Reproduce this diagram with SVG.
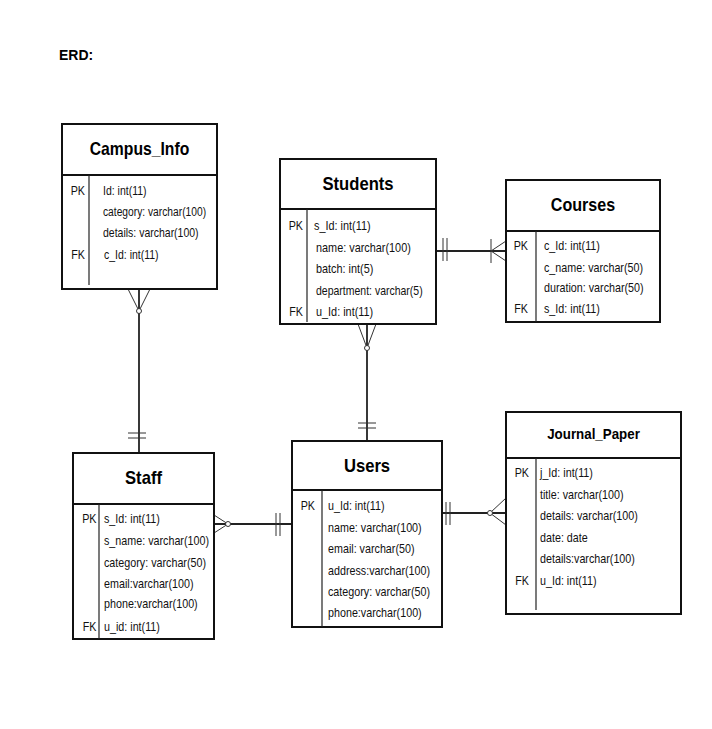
<svg xmlns="http://www.w3.org/2000/svg" width="712" height="729" viewBox="0 0 712 729">
<style>
.box{fill:#fff;stroke:#111;stroke-width:2}
.hd{stroke:#111;stroke-width:2.2}
.vl{stroke:#222;stroke-width:1.2}
.title{font-family:"Liberation Sans",Arial,sans-serif;font-weight:bold;font-size:18.5px;fill:#000;text-anchor:middle}
.attr{font-family:"Liberation Sans",Arial,sans-serif;font-size:12.5px;fill:#111}
.key{font-family:"Liberation Sans",Arial,sans-serif;font-size:12.5px;fill:#111;text-anchor:end}
.main{stroke:#222;stroke-width:1.8;fill:none}
.thin{stroke:#333;stroke-width:1;fill:none}
.circ{fill:#fff;stroke:#333;stroke-width:1}
</style>
<rect width="712" height="729" fill="#fff"/>
<text x="59" y="60" style="font-family:'Liberation Sans',Arial,sans-serif;font-weight:bold;font-size:14px;fill:#000">ERD:</text>

<g id="connectors">
  <!-- Campus_Info to Staff -->
  <line class="main" x1="139" y1="289" x2="139" y2="453"/>
  <line class="thin" x1="128" y1="289" x2="139" y2="311"/>
  <line class="thin" x1="150" y1="289" x2="139" y2="311"/>
  <circle class="circ" cx="139" cy="311" r="2.5"/>
  <line class="thin" x1="128" y1="433" x2="146" y2="433"/>
  <line class="thin" x1="128" y1="438" x2="146" y2="438"/>
  <!-- Students to Users -->
  <line class="main" x1="367" y1="324" x2="367" y2="441"/>
  <line class="thin" x1="358" y1="324" x2="367" y2="348"/>
  <line class="thin" x1="376" y1="324" x2="367" y2="348"/>
  <circle class="circ" cx="367" cy="348" r="2.5"/>
  <line class="thin" x1="358" y1="423" x2="376" y2="423"/>
  <line class="thin" x1="358" y1="428" x2="376" y2="428"/>
  <!-- Students to Courses -->
  <line class="main" x1="436" y1="251" x2="506" y2="251"/>
  <line class="thin" x1="443" y1="238" x2="443" y2="261"/>
  <line class="thin" x1="447" y1="238" x2="447" y2="261"/>
  <line class="thin" x1="491" y1="239" x2="491" y2="263"/>
  <line class="thin" x1="491" y1="251" x2="506" y2="241"/>
  <line class="thin" x1="491" y1="251" x2="506" y2="261"/>
  <!-- Staff to Users -->
  <line class="main" x1="214" y1="524" x2="292" y2="524"/>
  <line class="thin" x1="214" y1="515" x2="228" y2="524"/>
  <line class="thin" x1="214" y1="533" x2="228" y2="524"/>
  <circle class="circ" cx="228" cy="524" r="2.5"/>
  <line class="thin" x1="276" y1="513" x2="276" y2="536"/>
  <line class="thin" x1="280" y1="513" x2="280" y2="536"/>
  <!-- Users to Journal_Paper -->
  <line class="main" x1="442" y1="513" x2="506" y2="513"/>
  <line class="thin" x1="506" y1="498" x2="490" y2="513"/>
  <line class="thin" x1="506" y1="525" x2="490" y2="513"/>
  <circle class="circ" cx="490" cy="513" r="2.5"/>
  <line class="thin" x1="446" y1="502" x2="446" y2="525"/>
  <line class="thin" x1="450" y1="502" x2="450" y2="525"/>
</g>

<g id="campus_info">
  <rect class="box" x="62" y="124" width="155" height="165"/>
  <line class="hd" x1="62" y1="175" x2="217" y2="175"/>
  <line class="vl" x1="89" y1="175" x2="89" y2="285"/>
  <text class="title" transform="translate(139.5,155) scale(0.85,1)">Campus_Info</text>
  <text class="key" transform="translate(85,195) scale(0.86,1)">PK</text>
  <text class="key" transform="translate(85,259) scale(0.86,1)">FK</text>
  <text class="attr" transform="translate(103,195) scale(0.84,1)">Id: int(11)</text>
  <text class="attr" transform="translate(103,216) scale(0.82,1)">category: varchar(100)</text>
  <text class="attr" transform="translate(103,237) scale(0.84,1)">details: varchar(100)</text>
  <text class="attr" transform="translate(104,259) scale(0.84,1)">c_Id: int(11)</text>
</g>

<g id="students">
  <rect class="box" x="280" y="159" width="156" height="165"/>
  <line class="hd" x1="280" y1="209" x2="436" y2="209"/>
  <line class="vl" x1="307" y1="209" x2="307" y2="322"/>
  <text class="title" transform="translate(358,190) scale(0.9,1)">Students</text>
  <text class="key" transform="translate(303,230) scale(0.86,1)">PK</text>
  <text class="key" transform="translate(303,316) scale(0.86,1)">FK</text>
  <text class="attr" transform="translate(314,230) scale(0.87,1)">s_Id: int(11)</text>
  <text class="attr" transform="translate(316,252) scale(0.87,1)">name: varchar(100)</text>
  <text class="attr" transform="translate(316,273) scale(0.87,1)">batch: int(5)</text>
  <text class="attr" transform="translate(316,295) scale(0.84,1)">department: varchar(5)</text>
  <text class="attr" transform="translate(316,316) scale(0.87,1)">u_Id: int(11)</text>
</g>

<g id="courses">
  <rect class="box" x="506" y="180" width="154" height="142"/>
  <line class="hd" x1="506" y1="231" x2="660" y2="231"/>
  <line class="vl" x1="536" y1="231" x2="536" y2="322"/>
  <text class="title" transform="translate(583,211) scale(0.87,1)">Courses</text>
  <text class="key" transform="translate(528,250) scale(0.86,1)">PK</text>
  <text class="key" transform="translate(528,313) scale(0.86,1)">FK</text>
  <text class="attr" transform="translate(544,250) scale(0.86,1)">c_Id: int(11)</text>
  <text class="attr" transform="translate(544,271.5) scale(0.86,1)">c_name: varchar(50)</text>
  <text class="attr" transform="translate(544,292) scale(0.86,1)">duration: varchar(50)</text>
  <text class="attr" transform="translate(544,313) scale(0.86,1)">s_Id: int(11)</text>
</g>

<g id="staff">
  <rect class="box" x="73" y="453" width="141" height="186"/>
  <line class="hd" x1="73" y1="504" x2="214" y2="504"/>
  <line class="vl" x1="99" y1="504" x2="99" y2="639"/>
  <text class="title" transform="translate(143.5,484) scale(0.9,1)">Staff</text>
  <text class="key" transform="translate(96.5,523) scale(0.86,1)">PK</text>
  <text class="key" transform="translate(96.5,630.5) scale(0.86,1)">FK</text>
  <text class="attr" transform="translate(104,523) scale(0.86,1)">s_Id: int(11)</text>
  <text class="attr" transform="translate(104,545) scale(0.86,1)">s_name: varchar(100)</text>
  <text class="attr" transform="translate(104,566.5) scale(0.86,1)">category: varchar(50)</text>
  <text class="attr" transform="translate(104,587.5) scale(0.86,1)">email:varchar(100)</text>
  <text class="attr" transform="translate(104,608) scale(0.86,1)">phone:varchar(100)</text>
  <text class="attr" transform="translate(104,630.5) scale(0.86,1)">u_id: int(11)</text>
</g>

<g id="users">
  <rect class="box" x="292" y="441" width="150" height="186"/>
  <line class="hd" x1="292" y1="490" x2="442" y2="490"/>
  <line class="vl" x1="322" y1="490" x2="322" y2="627"/>
  <text class="title" transform="translate(367,471.5) scale(0.9,1)">Users</text>
  <text class="key" transform="translate(315,510) scale(0.86,1)">PK</text>
  <text class="attr" transform="translate(328,510) scale(0.86,1)">u_Id: int(11)</text>
  <text class="attr" transform="translate(328,531.5) scale(0.86,1)">name: varchar(100)</text>
  <text class="attr" transform="translate(328,552.5) scale(0.86,1)">email: varchar(50)</text>
  <text class="attr" transform="translate(328,575) scale(0.86,1)">address:varchar(100)</text>
  <text class="attr" transform="translate(328,596) scale(0.86,1)">category: varchar(50)</text>
  <text class="attr" transform="translate(328,616.5) scale(0.86,1)">phone:varchar(100)</text>
</g>

<g id="journal_paper">
  <rect class="box" x="506" y="412" width="175" height="202"/>
  <line class="hd" x1="506" y1="458" x2="681" y2="458"/>
  <line class="vl" x1="536" y1="458" x2="536" y2="610"/>
  <text class="title" transform="translate(593.5,439) scale(0.89,1)" style="font-size:15px">Journal_Paper</text>
  <text class="key" transform="translate(529,476.5) scale(0.86,1)">PK</text>
  <text class="key" transform="translate(529,585) scale(0.86,1)">FK</text>
  <text class="attr" transform="translate(540,476.5) scale(0.86,1)">j_Id: int(11)</text>
  <text class="attr" transform="translate(540,499) scale(0.86,1)">title: varchar(100)</text>
  <text class="attr" transform="translate(540,520) scale(0.86,1)">details: varchar(100)</text>
  <text class="attr" transform="translate(540,541.5) scale(0.86,1)">date: date</text>
  <text class="attr" transform="translate(540,562.5) scale(0.86,1)">details:varchar(100)</text>
  <text class="attr" transform="translate(540,585) scale(0.86,1)">u_Id: int(11)</text>
</g>
</svg>
